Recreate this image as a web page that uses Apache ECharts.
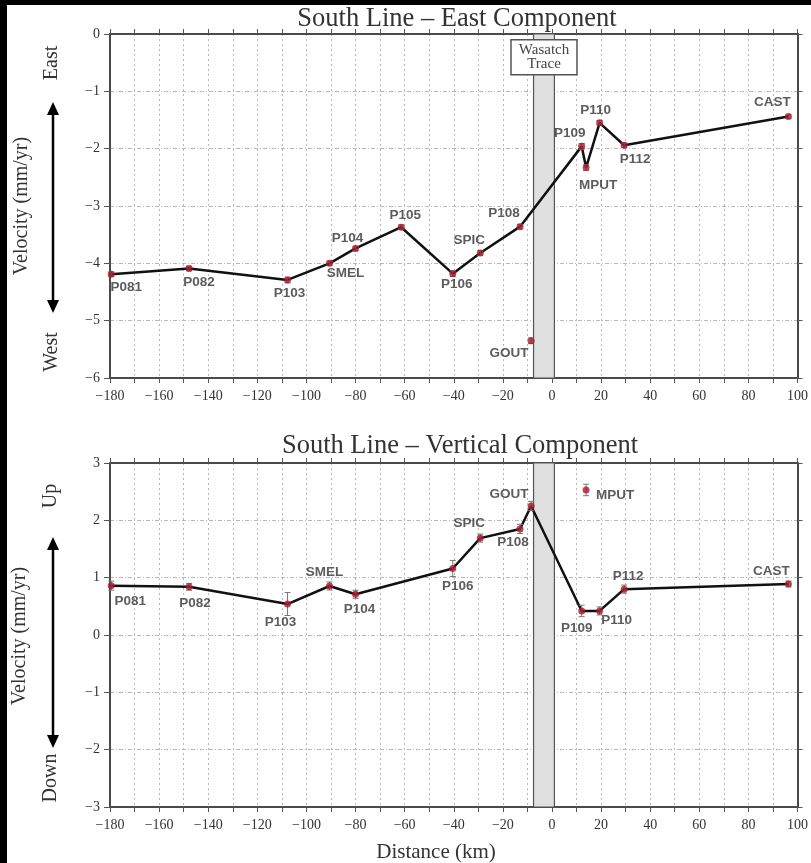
<!DOCTYPE html>
<html><head><meta charset="utf-8">
<script src="https://cdn.jsdelivr.net/npm/echarts@6/dist/echarts.min.js"></script>
<style>
html,body{margin:0;padding:0;background:#000;width:811px;height:863px;overflow:hidden}
#c{position:absolute;left:7px;top:5px;width:804px;height:858px;background:#fff}
</style>
</head><body><div id="c"></div>
<script>
// ---- data ----
const stations        = ['P081','P082','P103','SMEL','P104','P105','P106','SPIC','P108','GOUT','P109','MPUT','P110','P112','CAST'];
const distanceKm      = [-179.5,-147.8,-107.7,-90.6,-80,-61.4,-40.4,-29.2,-13,-8.5,12.1,13.9,19.4,29.4,96.3];
const eastVelocity    = [-4.19,-4.09,-4.29,-4.0,-3.74,-3.37,-4.18,-3.82,-3.36,-5.35,-1.96,-2.33,-1.55,-1.94,-1.44];
const eastSigma       = [0.04,0.04,0.05,0.04,0.04,0.04,0.05,0.04,0.04,0.05,0.05,0.05,0.04,0.04,0.03];
const verticalVelocity= [0.86,0.84,0.54,0.855,0.71,null,1.16,1.69,1.85,2.25,0.42,2.53,0.42,0.80,0.89];
const verticalSigma   = [0.08,0.06,0.2,0.07,0.07,null,0.14,0.07,0.08,0.08,0.1,0.1,0.07,0.07,0.05];
const eastOffLine     = ['GOUT'];
const verticalOffLine = ['MPUT'];
const faultZoneKm     = [-7.5, 1];
const xRange = [-180, 100];
const eastRange = [-6, 0];
const verticalRange = [-3, 3];

// ---- label placement (styling) ----
const eastLabelOffset = [[15,13],[10,14],[2,13],[16,10],[-8,-10],[4,-12],[4,11],[-11,-13],[-16,-13],[-22,13],[-12,-13],[12,18],[-4,-13],[11,14],[-16,-14]];
const vertLabelOffset = [[19,16],[6,16],[-7,18],[-5,-14],[4,15],null,[5,18],[-11,-15],[-7,13],[-22,-12],[-5,17],[29,5],[17,9],[4,-13],[-17,-13]];

const SERIF = '"Liberation Serif","DejaVu Serif",serif';
const SANS = '"Liberation Sans",Arial,sans-serif';
const minus = v => String(v).replace('-', '\u2212');

function pts(vals, skip) {
  const out = [];
  stations.forEach((s, i) => { if (vals[i] !== null && skip.indexOf(s) < 0) out.push([distanceKm[i], vals[i]]); });
  return out;
}
function scatterData(vals, offs) {
  const out = [];
  stations.forEach((s, i) => {
    if (vals[i] === null) return;
    out.push({ value: [distanceKm[i], vals[i]], name: s, label: { offset: offs[i] } });
  });
  return out;
}
function errData(vals, sig) {
  const out = [];
  stations.forEach((s, i) => { if (vals[i] !== null) out.push([distanceKm[i], vals[i], sig[i]]); });
  return out;
}
function errRender(params, api) {
  const x = api.value(0), y = api.value(1), e = api.value(2);
  const a = api.coord([x, y + e]), b = api.coord([x, y - e]);
  const w = 3, st = { stroke: '#777', lineWidth: 1 };
  return { type: 'group', children: [
    { type: 'line', shape: { x1: a[0], y1: a[1], x2: b[0], y2: b[1] }, style: st },
    { type: 'line', shape: { x1: a[0]-w, y1: a[1], x2: a[0]+w, y2: a[1] }, style: st },
    { type: 'line', shape: { x1: b[0]-w, y1: b[1], x2: b[0]+w, y2: b[1] }, style: st }
  ]};
}

const axisLineStyle = { color: '#4a4a4a', width: 2 };
function xAxisMain(grid) {
  return { type: 'value', gridIndex: grid, min: xRange[0], max: xRange[1], interval: 10,
    axisLine: { show: true, onZero: false, lineStyle: axisLineStyle },
    axisTick: { show: true, length: 5, lineStyle: { color: '#555', width: 1 } },
    axisLabel: { margin: 11, fontFamily: SERIF, fontSize: 14, color: '#333',
      formatter: v => (v % 20 === 0 ? minus(v) : '') },
    splitLine: { show: true, lineStyle: { color: '#b8b8b8', type: [2, 3], width: 1 } } };
}
function xAxisTop(grid) {
  return { type: 'value', gridIndex: grid, position: 'top', min: xRange[0], max: xRange[1], interval: 10,
    axisLine: { show: true, onZero: false, lineStyle: axisLineStyle },
    axisTick: { show: true, length: 5, lineStyle: { color: '#555', width: 1 } },
    axisLabel: { show: false }, splitLine: { show: false } };
}
function yAxisMain(grid, r) {
  return { type: 'value', gridIndex: grid, min: r[0], max: r[1], interval: 1,
    axisLine: { show: true, onZero: false, lineStyle: axisLineStyle },
    axisTick: { show: true, length: 6, lineStyle: { color: '#555', width: 1 } },
    axisLabel: { margin: 10, fontFamily: SERIF, fontSize: 14, color: '#333', formatter: v => minus(v) },
    splitLine: { show: true, lineStyle: { color: '#b8b8b8', type: [4, 2, 1, 2], width: 1 } } };
}
function yAxisRight(grid, r) {
  return { type: 'value', gridIndex: grid, position: 'right', min: r[0], max: r[1], interval: 1,
    axisLine: { show: true, onZero: false, lineStyle: axisLineStyle },
    axisTick: { show: true, length: 5, lineStyle: { color: '#555', width: 1 } },
    axisLabel: { show: false }, splitLine: { show: false } };
}

const band = {
  silent: true,
  itemStyle: { color: '#e0e0e0', borderColor: '#555', borderWidth: 1.2 },
  data: [[{ xAxis: faultZoneKm[0] }, { xAxis: faultZoneKm[1] }]]
};
const pointLabel = { show: true, position: 'inside', formatter: p => p.name,
  fontFamily: SANS, fontSize: 13.5, fontWeight: 'bold', color: '#333', align: 'center', verticalAlign: 'middle' };

function seriesFor(ax, vals, sig, skip, offs) {
  return [
    { type: 'line', xAxisIndex: ax, yAxisIndex: ax, data: pts(vals, skip), symbol: 'none',
      lineStyle: { color: '#111', width: 2.5 }, z: 3, markArea: band, animation: false },
    { type: 'custom', xAxisIndex: ax, yAxisIndex: ax, data: errData(vals, sig), renderItem: errRender, z: 4, animation: false },
    { type: 'scatter', xAxisIndex: ax, yAxisIndex: ax, data: scatterData(vals, offs), symbolSize: 7,
      itemStyle: { color: '#a81a2c' }, label: pointLabel, z: 5, animation: false }
  ];
}

const chart = echarts.init(document.getElementById('c'), null, { renderer: 'canvas' });
const option = {
  backgroundColor: '#fff',
  animation: false,
  grid: [
    { left: 103, top: 29, width: 695, height: 344 },
    { left: 103, top: 458, width: 695, height: 344 }
  ],
  xAxis: [xAxisMain(0), xAxisTop(0), xAxisMain(1), xAxisTop(1)],
  yAxis: [yAxisMain(0, eastRange), yAxisRight(0, eastRange), yAxisMain(1, verticalRange), yAxisRight(1, verticalRange)],
  series: [].concat(
    seriesFor(0, eastVelocity, eastSigma, eastOffLine, eastLabelOffset),
    seriesFor(2, verticalVelocity, verticalSigma, verticalOffLine, vertLabelOffset)
  )
};
chart.setOption(option);

// annotations
function txt(x, y, text, size, rot, family) {
  return { type: 'text', x: x, y: y, rotation: rot || 0, z: 20,
    style: { text: text, x: 0, y: 0, font: size + 'px ' + (family || SERIF), fill: '#333',
      textAlign: 'center', textVerticalAlign: 'middle', align: 'center', verticalAlign: 'middle' } };
}
function arrow(x, y1, y2) {
  const hw = 6, hl = 13;
  return { type: 'group', z: 20, children: [
    { type: 'line', shape: { x1: x, y1: y1 + hl - 2, x2: x, y2: y2 - hl + 2 }, style: { stroke: '#000', lineWidth: 2.5 } },
    { type: 'polygon', shape: { points: [[x, y1], [x - hw, y1 + hl], [x + hw, y1 + hl]] }, style: { fill: '#000' } },
    { type: 'polygon', shape: { points: [[x, y2], [x - hw, y2 - hl], [x + hw, y2 - hl]] }, style: { fill: '#000' } }
  ]};
}
const boxL = chart.convertToPixel({ xAxisIndex: 0, yAxisIndex: 0 }, [(faultZoneKm[0] + faultZoneKm[1]) / 2, -0.1]);
const boxB = chart.convertToPixel({ xAxisIndex: 0, yAxisIndex: 0 }, [0, -0.71]);
const boxW = 66, boxH = boxB[1] - boxL[1];

chart.setOption({
  graphic: [
    txt(450, 14.5, 'South Line \u2013 East Component', 26.5),
    txt(453, 441.5, 'South Line \u2013 Vertical Component', 26.5),
    txt(429, 847, 'Distance (km)', 21),
    txt(15, 201, 'Velocity (mm/yr)', 20, Math.PI / 2),
    txt(45, 58, 'East', 20, Math.PI / 2),
    txt(45, 347, 'West', 20, Math.PI / 2),
    txt(13, 631, 'Velocity (mm/yr)', 20, Math.PI / 2),
    txt(44, 491, 'Up', 20, Math.PI / 2),
    txt(44, 773, 'Down', 20, Math.PI / 2),
    arrow(46, 97, 308),
    arrow(46, 532, 743),
    { type: 'rect', z: 20, shape: { x: boxL[0] - boxW / 2, y: boxL[1], width: boxW, height: boxH },
      style: { fill: '#fff', stroke: '#555', lineWidth: 1.5 } },
    { type: 'text', z: 21, x: boxL[0], y: boxL[1] + boxH / 2,
      style: { text: 'Wasatch\nTrace', x: 0, y: 0, font: '15px ' + SERIF, fill: '#444', lineHeight: 14,
        textAlign: 'center', textVerticalAlign: 'middle', align: 'center', verticalAlign: 'middle' } }
  ]
});
</script>
</body></html>
